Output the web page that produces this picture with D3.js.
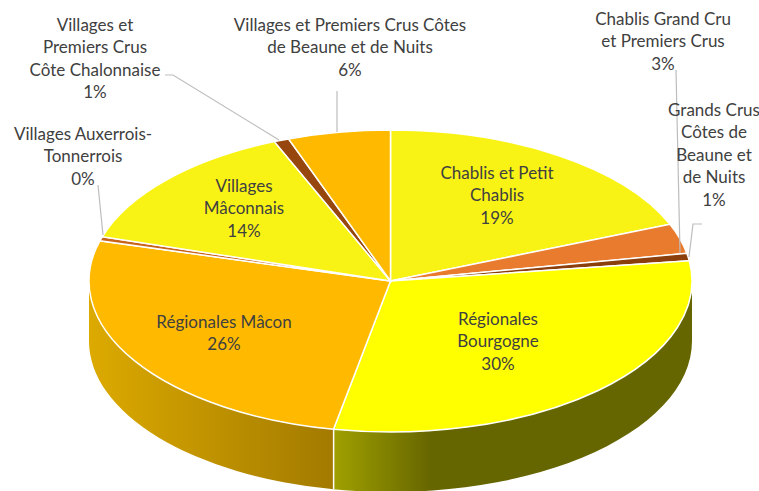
<!DOCTYPE html>
<html>
<head>
<meta charset="utf-8">
<script src="https://cdn.jsdelivr.net/npm/d3@7"></script>
<style>
html,body{margin:0;padding:0;background:#fff;}
svg{display:block;}
text{font-family:Lato,"Open Sans",sans-serif;font-size:17px;fill:#404040;text-anchor:middle;}
</style>
</head>
<body>
<div id="chart"></div>
<script>
// values
var categories = [
    ["Chablis et Petit", "Chablis"],
    ["Chablis Grand Cru", "et Premiers Crus"],
    ["Grands Crus", "Côtes de", "Beaune et", "de Nuits"],
    ["Régionales", "Bourgogne"],
    ["Régionales Mâcon"],
    ["Villages Auxerrois-", "Tonnerrois"],
    ["Villages", "Mâconnais"],
    ["Villages et", "Premiers Crus", "Côte Chalonnaise"],
    ["Villages et Premiers Crus Côtes", "de Beaune et de Nuits"]
];
var shares = [18.9, 3.2, 0.8, 30.2, 26.3, 0.45, 14.0, 0.8, 5.5];

var colors = ["#f9f315", "#e97b2e", "#8a3f0c", "#ffff00", "#ffba00", "#c9651b", "#f9f315", "#97460e", "#ffba00"];

function init() {

    var w = 759;
    var h = 491;
    var cx = 390.5;
    var cy = 281;
    var rx = 301.5;
    var ry = 151;
    var depth = 60;
    var lineH = 22.6;

    // label centre x and first line centre y, same order as categories
    var labelPos = [[497, 173], [663, 19], [714, 110], [498, 319], [224, 322], [83, 134], [244, 186], [95, 25], [350, 25]];

    // leader lines, null where the label sits on the slice
    var leaders = [
        null,
        [[676, 70], [680, 253]],
        [[702, 224], [693, 224], [689, 257]],
        null,
        null,
        [[98, 185], [103, 235]],
        null,
        [[165, 75], [173, 75], [279, 140]],
        [[337, 91], [337, 132]]
    ];

    var fmt = function(v) { return d3.format(".0f")(v) + "%"; };

    var pie = d3.pie().sort(null).value(function(d) { return d; });
    var slices = pie(shares);

    var arc = d3.arc().innerRadius(0).outerRadius(1);

    // unit circle to the tilted ellipse
    var xScale = d3.scaleLinear().domain([-1, 1]).range([cx - rx, cx + rx]);
    var yScale = d3.scaleLinear().domain([-1, 1]).range([cy - ry, cy + ry]);

    var svg = d3.select("#chart")
        .append("svg")
        .attr("width", w)
        .attr("height", h);

    var defs = svg.append("defs");

    var sideFill = [
        {id: "sideRight", stops: [["0%", "#a0a000"], ["27%", "#666600"], ["100%", "#666600"]]},
        {id: "sideLeft", stops: [["0%", "#dcaa00"], ["100%", "#a37a00"]]}
    ];
    sideFill.forEach(function(g) {
        var lg = defs.append("linearGradient").attr("id", g.id);
        g.stops.forEach(function(s) {
            lg.append("stop").attr("offset", s[0]).attr("stop-color", s[1]);
        });
    });

    function edge(a) {
        return [xScale(Math.sin(a)), yScale(-Math.cos(a))];
    }

    // the wall under a slice, between two angles of the front half
    function wall(a0, a1) {
        var p0 = edge(a0);
        var p1 = edge(a1);
        return "M" + p0[0] + "," + p0[1]
            + "A" + rx + "," + ry + " 0 0 1 " + p1[0] + "," + p1[1]
            + "L" + p1[0] + "," + (p1[1] + depth)
            + "A" + rx + "," + ry + " 0 0 0 " + p0[0] + "," + (p0[1] + depth)
            + "Z";
    }

    var bourgogne = slices[3];
    var macon = slices[4];

    svg.append("path")
        .attr("d", wall(Math.PI / 2, bourgogne.endAngle))
        .attr("fill", "url(#sideRight)");

    svg.append("path")
        .attr("d", wall(macon.startAngle, 1.5 * Math.PI))
        .attr("fill", "url(#sideLeft)");

    svg.append("g")
        .attr("transform", "translate(" + cx + "," + cy + ") scale(" + rx + "," + ry + ")")
        .selectAll("path")
        .data(slices)
        .join("path")
        .attr("d", arc)
        .attr("fill", function(d, i) { return colors[i]; })
        .attr("stroke", "#fff")
        .attr("stroke-width", 1.5)
        .attr("vector-effect", "non-scaling-stroke");

    svg.append("line")
        .attr("x1", edge(bourgogne.endAngle)[0])
        .attr("y1", edge(bourgogne.endAngle)[1])
        .attr("x2", edge(bourgogne.endAngle)[0])
        .attr("y2", edge(bourgogne.endAngle)[1] + depth)
        .attr("stroke", "#fff")
        .attr("stroke-width", 1.5);

    var lineGen = d3.line();
    svg.append("g")
        .selectAll("path")
        .data(leaders.filter(function(d) { return d; }))
        .join("path")
        .attr("d", lineGen)
        .attr("fill", "none")
        .attr("stroke", "#bdbdbd")
        .attr("stroke-width", 1.2);

    var labels = svg.append("g")
        .selectAll("text")
        .data(categories)
        .join("text")
        .attr("transform", function(d, i) { return "translate(" + labelPos[i][0] + "," + labelPos[i][1] + ")"; });

    labels.each(function(d, i) {
        var t = d3.select(this);
        d.concat(fmt(shares[i])).forEach(function(s, k) {
            t.append("tspan")
                .attr("x", 0)
                .attr("y", k * lineH + 5.5)
                .text(s);
        });
    });
}
window.onload = init;
</script>
</body>
</html>
